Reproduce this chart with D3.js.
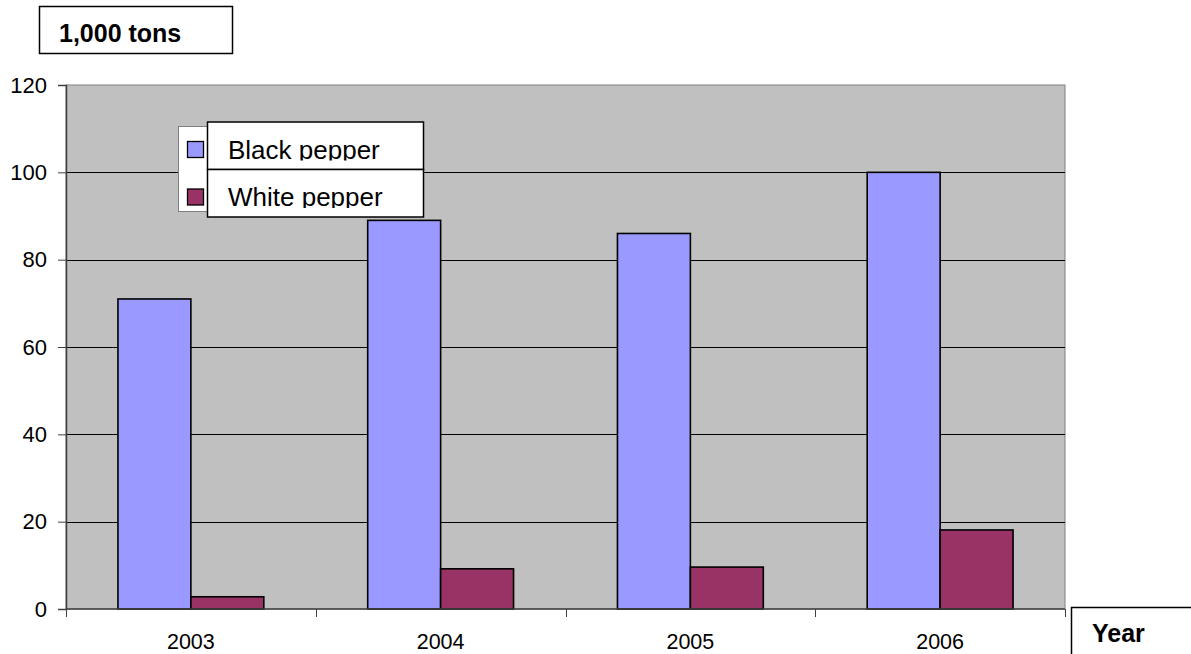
<!DOCTYPE html>
<html>
<head>
<meta charset="utf-8">
<script src="https://cdn.jsdelivr.net/npm/d3@7"></script>
<style>
  html, body { margin: 0; padding: 0; background: #fff; }
  svg { display: block; font-family: "Liberation Sans", Arial, sans-serif; }
</style>
</head>
<body>
<svg id="chart" width="1191" height="654"></svg>
<script>
// Pepper production, thousand tons
const years = ["2003", "2004", "2005", "2006"];
const seriesNames = ["Black pepper", "White pepper"];
const blackPepper = [71, 89, 86, 100];
const whitePepper = [2.8, 9.2, 9.6, 18.1];
const yTicks = [0, 20, 40, 60, 80, 100, 120];
const colors = ["#9999FF", "#993366"];

const svg = d3.select("#chart");
const plot = { left: 66, right: 1065, top: 85, bottom: 609 };

const x0 = d3.scaleBand().domain(years).range([plot.left, plot.right])
  .paddingInner(0.416).paddingOuter(0.208);
const x1 = d3.scaleBand().domain(seriesNames).range([0, x0.bandwidth()]);
const y = d3.scaleLinear().domain([0, 120]).range([plot.bottom, plot.top]);

// plot background
svg.append("rect")
  .attr("x", plot.left).attr("y", plot.top)
  .attr("width", plot.right - plot.left).attr("height", plot.bottom - plot.top)
  .attr("fill", "#C0C0C0").attr("stroke", "#808080").attr("stroke-width", 1);

// gridlines
svg.append("g").selectAll("line").data(yTicks.filter(t => t > 0 && t < 120)).join("line")
  .attr("x1", plot.left).attr("x2", plot.right)
  .attr("y1", d => Math.round(y(d)) + 0.5).attr("y2", d => Math.round(y(d)) + 0.5)
  .attr("stroke", "#000").attr("stroke-width", 1);

// bars
const rows = years.map((yr, i) => ({ year: yr, values: [blackPepper[i], whitePepper[i]] }));
const groups = svg.append("g").selectAll("g").data(rows).join("g")
  .attr("transform", d => `translate(${x0(d.year)},0)`);
groups.selectAll("rect").data(d => d.values.map((v, k) => ({ name: seriesNames[k], v, k }))).join("rect")
  .attr("x", d => x1(d.name))
  .attr("y", d => y(d.v))
  .attr("width", x1.bandwidth())
  .attr("height", d => y(0) - y(d.v))
  .attr("fill", d => colors[d.k])
  .attr("stroke", "#000").attr("stroke-width", 1.6);

// y axis
const yAxis = svg.append("g").attr("transform", `translate(${plot.left},0)`)
  .call(d3.axisLeft(y).tickValues(yTicks).tickSize(8).tickPadding(11).tickFormat(d3.format("d")));
yAxis.select(".domain").attr("stroke", "#404040").attr("stroke-width", 1.5);
yAxis.selectAll(".tick line").attr("stroke", "#404040");
yAxis.selectAll(".tick text").attr("font-size", 22).attr("fill", "#000")
  .attr("font-family", "Liberation Sans, Arial, sans-serif");

// x axis
const bounds = years.map(yv => x0(yv) - x0.step() * x0.paddingOuter()).concat([plot.right]);
svg.append("line").attr("x1", plot.left).attr("x2", plot.right)
  .attr("y1", plot.bottom).attr("y2", plot.bottom).attr("stroke", "#404040").attr("stroke-width", 1.5);
svg.append("g").selectAll("line").data(bounds).join("line")
  .attr("x1", d => Math.round(d) + 0.5).attr("x2", d => Math.round(d) + 0.5)
  .attr("y1", plot.bottom).attr("y2", plot.bottom + 8).attr("stroke", "#404040");
svg.append("g").selectAll("text").data(years).join("text")
  .attr("x", d => x0(d) + x0.bandwidth() / 2).attr("y", 649)
  .attr("text-anchor", "middle").attr("font-size", 21.5).text(d => d);

// unit label
svg.append("rect").attr("x", 39.5).attr("y", 6.5).attr("width", 193).attr("height", 47)
  .attr("fill", "#fff").attr("stroke", "#000").attr("stroke-width", 1.5);
svg.append("text").attr("x", 59).attr("y", 42).attr("font-size", 25).attr("font-weight", "bold")
  .text("1,000 tons");

// axis title
svg.append("rect").attr("x", 1071.5).attr("y", 607.5).attr("width", 130).attr("height", 60)
  .attr("fill", "#fff").attr("stroke", "#000").attr("stroke-width", 1.5);
svg.append("text").attr("x", 1092).attr("y", 642).attr("font-size", 25).attr("font-weight", "bold")
  .text("Year");

// legend
const legend = svg.append("g");
legend.append("rect").attr("x", 178.5).attr("y", 126.5).attr("width", 60).attr("height", 85)
  .attr("fill", "#fff").attr("stroke", "#808080").attr("stroke-width", 1);
const defs = svg.append("defs");
seriesNames.forEach((name, k) => {
  const top = 122 + k * 47.5;
  legend.append("rect").attr("x", 187.5).attr("y", top + 19.5).attr("width", 16).attr("height", 16)
    .attr("fill", colors[k]).attr("stroke", "#000").attr("stroke-width", 1.3);
  legend.append("rect").attr("x", 207.5).attr("y", top).attr("width", 216).attr("height", 47.5)
    .attr("fill", "#fff").attr("stroke", "#000").attr("stroke-width", 1.5);
  // entry text is cut just below its baseline
  defs.append("clipPath").attr("id", "legclip" + k)
    .append("rect").attr("x", 208).attr("y", top + 1).attr("width", 214).attr("height", 37.5);
  legend.append("text").attr("x", 228).attr("y", top + 36.5).attr("font-size", 26)
    .attr("clip-path", `url(#legclip${k})`).text(name);
});
</script>
</body>
</html>
